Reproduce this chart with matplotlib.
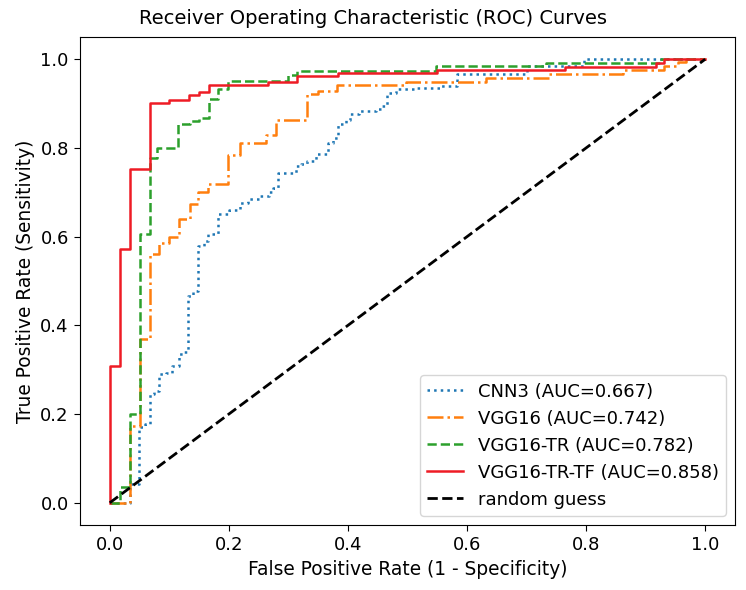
import numpy as np
import matplotlib
matplotlib.use("Agg")
import matplotlib.pyplot as plt

# ROC step points: fpr where tpr jumps, and the new tpr value
cnn3_fpr = [0.0, 0.034, 0.049, 0.06, 0.067, 0.075, 0.083, 0.095, 0.105, 0.117, 0.125,
            0.131, 0.14, 0.148, 0.158, 0.165, 0.182, 0.201, 0.218, 0.232, 0.252, 0.268,
            0.275, 0.282, 0.313, 0.322, 0.331, 0.347, 0.366, 0.375, 0.383, 0.397, 0.403,
            0.419, 0.447, 0.455, 0.465, 0.481, 0.515, 0.554, 0.584, 0.70, 0.797, 1.0]
cnn3_tpr = [0.0, 0.043, 0.17, 0.178, 0.245, 0.252, 0.29, 0.293, 0.309, 0.335, 0.339,
            0.466, 0.477, 0.579, 0.59, 0.605, 0.651, 0.66, 0.676, 0.685, 0.691, 0.701,
            0.71, 0.743, 0.759, 0.764, 0.77, 0.786, 0.811, 0.822, 0.853, 0.862, 0.876,
            0.883, 0.887, 0.894, 0.923, 0.932, 0.935, 0.939, 0.966, 0.984, 1.0, 1.0]

vgg16_fpr = [0.0, 0.034, 0.05, 0.067, 0.082, 0.1, 0.117, 0.134, 0.148, 0.165, 0.199,
             0.218, 0.263, 0.28, 0.332, 0.349, 0.381, 0.498, 0.632, 0.738, 0.862, 0.931,
             0.955, 0.968, 1.0]
vgg16_tpr = [0.0, 0.173, 0.37, 0.56, 0.585, 0.6, 0.64, 0.673, 0.70, 0.718, 0.784,
             0.812, 0.83, 0.862, 0.921, 0.928, 0.941, 0.949, 0.958, 0.966, 0.975, 0.984,
             0.993, 1.0, 1.0]

vgg16tr_fpr = [0.0, 0.017, 0.034, 0.05, 0.067, 0.079, 0.114, 0.134, 0.15, 0.167, 0.182,
               0.198, 0.299, 0.314, 0.548, 0.733, 0.926, 1.0]
vgg16tr_tpr = [0.0, 0.035, 0.2, 0.605, 0.777, 0.8, 0.853, 0.86, 0.867, 0.91, 0.932,
               0.95, 0.964, 0.974, 0.984, 0.992, 1.0, 1.0]

vgg16trtf_fpr = [0.0, 0.0, 0.017, 0.034, 0.067, 0.1, 0.133, 0.15, 0.167, 0.266, 0.315,
                 0.383, 0.55, 0.765, 0.917, 0.931, 1.0]
vgg16trtf_tpr = [0.0, 0.309, 0.572, 0.752, 0.901, 0.908, 0.919, 0.926, 0.941, 0.949, 0.962,
                 0.968, 0.975, 0.983, 0.992, 1.0, 1.0]

labels = ['CNN3 (AUC=0.667)', 'VGG16 (AUC=0.742)', 'VGG16-TR (AUC=0.782)',
          'VGG16-TR-TF (AUC=0.858)', 'random guess']

fig = plt.figure(figsize=(7.46, 5.90), dpi=100)
ax = fig.add_axes([0.1072, 0.1102, 0.878, 0.827])

ax.plot(cnn3_fpr, cnn3_tpr, ':', color='#1f77b4', lw=1.8, drawstyle='steps-post', label=labels[0])
ax.plot(vgg16_fpr, vgg16_tpr, '-.', color='#ff7f0e', lw=1.8, drawstyle='steps-post', label=labels[1])
ax.plot(vgg16tr_fpr, vgg16tr_tpr, '--', color='#2ca02c', lw=1.8, drawstyle='steps-post', label=labels[2])
ax.plot(vgg16trtf_fpr, vgg16trtf_tpr, '-', color='#ee1c25', lw=1.8, drawstyle='steps-post', label=labels[3])
ax.plot([0, 1], [0, 1], '--', color='black', lw=2, label=labels[4])

ax.set_xlim(-0.05, 1.05)
ax.set_ylim(-0.05, 1.05)
ax.set_xticks(np.arange(0, 1.01, 0.2))
ax.set_yticks(np.arange(0, 1.01, 0.2))
ax.tick_params(labelsize=13, length=4.5)
ax.set_xlabel('False Positive Rate (1 - Specificity)', fontsize=13.4)
ax.set_ylabel('True Positive Rate (Sensitivity)', fontsize=13.4)
fig.suptitle('Receiver Operating Characteristic (ROC) Curves', fontsize=14, x=0.5, y=0.985)
ax.legend(loc='lower right', fontsize=13)

fig.savefig('out.png', dpi=100)
